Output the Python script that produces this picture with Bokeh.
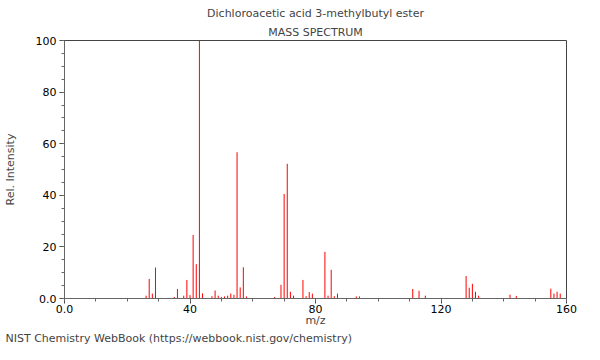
from bokeh.plotting import figure
from bokeh.models import Title, Range1d, FixedTicker
from bokeh.embed import file_html
from bokeh.resources import INLINE

# m/z values and relative intensities
mz = [26, 27, 28, 29, 35, 36, 38, 39, 40, 41, 42, 43, 44, 47, 48, 49, 50,
      51, 52, 53, 54, 55, 56, 57, 58, 67, 69, 70, 71, 72, 73, 76, 77, 78,
      79, 83, 84, 85, 86, 87, 93, 94, 111, 113, 115, 128, 129, 130, 131,
      132, 142, 144, 155, 156, 157, 158]
intensity = [1.1, 7.6, 1.9, 12.0, 0.6, 3.7, 1.1, 7.2, 1.3, 24.6, 13.3, 100.0,
             2.0, 0.9, 3.1, 1.1, 0.6, 0.8, 1.1, 1.9, 1.4, 56.7, 4.3, 12.1, 0.8,
             0.6, 5.3, 40.5, 52.2, 2.6, 1.1, 7.2, 0.9, 2.5, 1.9, 18.1, 1.1,
             11.1, 0.9, 1.9, 0.8, 0.8, 3.7, 3.0, 1.1, 8.7, 4.2, 5.7, 2.6, 1.1,
             1.5, 1.0, 3.8, 1.9, 2.6, 1.9]
baseline = [0] * len(mz)

x_major = [0, 40, 80, 120, 160]
x_minor = list(range(0, 161, 10))
y_major = [0, 20, 40, 60, 80, 100]
y_minor = list(range(0, 101, 5))

compound = "Dichloroacetic acid 3-methylbutyl ester"
subtitle = "MASS SPECTRUM"
footer = "NIST Chemistry WebBook (https://webbook.nist.gov/chemistry)"

FONT = "DejaVu Sans"
W, H = 584, 344
LEFT = 62

p = figure(width=W, height=H, output_backend="svg", toolbar_location=None,
           x_range=Range1d(0, 160), y_range=Range1d(0, 100),
           min_border_left=LEFT, min_border_right=18, min_border_top=40,
           min_border_bottom=40)

p.title.text = compound
p.title.align = "center"
p.title.text_font = FONT
p.title.text_font_size = "11px"
p.title.text_font_style = "normal"
p.title.standoff = 3
p.add_layout(Title(text=subtitle, align="center", text_font=FONT,
                   text_font_size="11px", text_font_style="normal",
                   standoff=4), "above")

p.segment(x0=mz, y0=baseline, x1=mz, y1=intensity, line_color="red",
          line_width=1)

p.xgrid.visible = False
p.ygrid.visible = False
p.outline_line_color = "#444444"
p.outline_line_width = 1

for ax in (p.xaxis[0], p.yaxis[0]):
    ax.axis_line_color = "#666666"
    ax.major_tick_line_color = "#444444"
    ax.minor_tick_line_color = "#666666"
    ax.major_tick_out = 5
    ax.major_tick_in = 0
    ax.minor_tick_out = 3
    ax.minor_tick_in = 0
    ax.major_label_text_font = FONT
    ax.major_label_text_font_size = "11px"
    ax.major_label_text_color = "black"
    ax.axis_label_text_font = FONT
    ax.axis_label_text_font_size = "11px"
    ax.axis_label_text_font_style = "normal"

p.xaxis.ticker = FixedTicker(ticks=x_major, minor_ticks=x_minor)
p.yaxis.ticker = FixedTicker(ticks=y_major, minor_ticks=y_minor)
p.xaxis.major_label_overrides = {0: "0.0"}
p.yaxis.major_label_overrides = {0: "0.0"}
p.xaxis.axis_label = "m/z"
p.yaxis.axis_label = "Rel. Intensity"
p.xaxis.axis_label_standoff = -2
p.yaxis.axis_label_standoff = 16
p.xaxis.major_label_standoff = 1
p.yaxis.major_label_standoff = 3

p.add_layout(Title(text=footer, align="left", text_font=FONT,
                   text_font_size="11px", text_font_style="normal",
                   offset=3 - LEFT, standoff=0), "below")

open("out.html", "w").write(file_html(p, INLINE))
